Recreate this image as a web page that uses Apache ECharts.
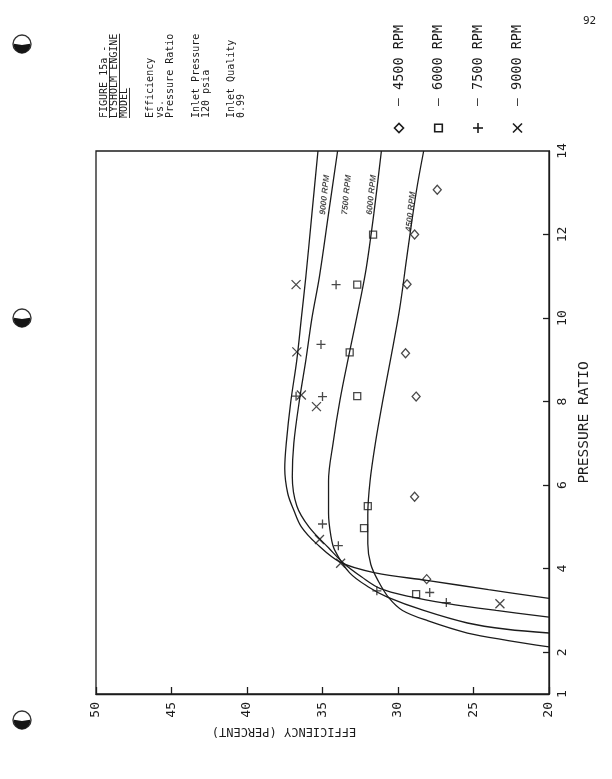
<!DOCTYPE html>
<html>
<head>
<meta charset="utf-8">
<script src="https://cdn.jsdelivr.net/npm/echarts@6/dist/echarts.min.js"></script>
<style>html,body{margin:0;padding:0;background:#fff}#c{width:612px;height:779px}</style>
</head>
<body>
<div id="c"></div>
<script>
// ---- axis ticks ----
const effTicks = [20, 25, 30, 35, 40, 45, 50];
const prLabels = [1, 2, 4, 6, 8, 10, 12, 14];
const prTickMarks = [2, 4, 6, 8, 10, 12];

// ---- measured points [efficiency %, pressure ratio] ----
const pts4500 = [[27.4,13.07],[28.9,12.0],[29.4,10.81],[29.5,9.16],[28.8,8.12],[28.9,5.72],[28.1,3.75]];
const pts6000 = [[31.65,12.0],[32.7,10.8],[33.2,9.18],[32.7,8.13],[32.0,5.5],[32.25,4.97],[28.8,3.39]];
const pts7500 = [[34.1,10.8],[35.1,9.37],[36.75,8.13],[35.0,8.12],[35.0,5.07],[33.95,4.55],[31.4,3.47],[27.9,3.43],[26.8,3.19]];
const pts9000 = [[36.75,10.8],[36.7,9.19],[36.4,8.16],[35.4,7.88],[35.2,4.70],[33.8,4.13],[23.25,3.16]];

// ---- model curves [efficiency %, pressure ratio] ----
const curve9000 = [[35.3,14],[35.7,12.5],[36.1,11],[36.4,10],[36.7,9],[37.1,8],[37.4,7],[37.5,6.4],[37.3,5.8],[36.9,5.4],[36.4,5.0],[35.4,4.6],[33.8,4.15],[31.5,3.9],[28.1,3.72],[24,3.5],[20,3.29]];
const curve7500 = [[34.0,14],[34.6,12.5],[35.2,11],[35.7,10],[36.1,9],[36.5,8.1],[36.9,7],[37.0,6.2],[36.7,5.5],[35.9,5.0],[34.6,4.5],[33.6,4.13],[32.4,3.8],[31.2,3.53],[29.2,3.33],[26.8,3.17],[23.5,3.0],[20,2.84]];
const curve6000 = [[31.1,14],[31.6,12.5],[32.1,11.2],[32.5,10.43],[33.2,9.2],[33.84,8.04],[34.3,7],[34.6,6.1],[34.6,5.33],[34.45,4.8],[34.2,4.45],[33.2,3.9],[31.9,3.55],[30.7,3.32],[28.3,3.0],[25.4,2.7],[22.8,2.55],[20,2.46]];
const curve4500 = [[28.3,14],[28.8,13],[29.4,11.5],[29.9,10.2],[30.5,9],[31.0,8.04],[31.5,7],[31.85,6.1],[32.0,5.3],[32.0,4.6],[31.8,4.1],[31.3,3.7],[30.6,3.3],[29.7,3.0],[28,2.75],[25.4,2.46],[22.7,2.28],[20,2.13]];

// ---- curve labels ----
const curveLabelText = ['9000 RPM', '7500 RPM', '6000 RPM', '4500 RPM'];
const curveLabelEff = [34.85, 33.4, 31.75, 29.15];
const curveLabelPR = [12.95, 12.95, 12.95, 12.55];

// ---- text blocks ----
const titleLines = ['FIGURE 15a -', 'LYSHOLM ENGINE', 'MODEL', 'Efficiency', 'vs.', 'Pressure Ratio', 'Inlet Pressure', '120 psia', 'Inlet Quality', '0.99'];
const underlinedText = ['FIGURE 15a', 'LYSHOLM ENGINE', 'MODEL'];
const legendNames = ['4500 RPM', '6000 RPM', '7500 RPM', '9000 RPM'];
const legendSymbols = ['diamond', 'square', 'plus', 'cross'];

// layout (screen columns for the rotated text block, punch holes)
const titleColX = [104, 114, 124, 150, 160, 170, 196, 206, 231, 241];
const TITLE_BASE_Y = 118;
const holeY = [44, 318, 720];

const INK = '#1c1c1c';
const MONO = 'DejaVu Sans Mono';
const plusPath = 'path://M5,0L5,10M0,5L10,5';
const crossPath = 'path://M0,0L10,10M10,0L0,10';

const chart = echarts.init(document.getElementById('c'), null, {renderer: 'canvas'});

function curveSeries(data) {
  return {type: 'line', data: data, smooth: 0.35, showSymbol: false, symbol: 'none',
    lineStyle: {color: INK, width: 1.3}, silent: true, z: 2};
}
function ptSeries(data, symbol, size) {
  return {type: 'scatter', data: data, symbol: symbol, symbolSize: size,
    itemStyle: {color: 'rgba(0,0,0,0)', borderColor: INK, borderWidth: 1.3}, z: 3};
}

// title graphic (group rotated 90deg: local x -> up, local y -> right)
const x0 = titleColX[0];
const titleChildren = [];
titleLines.forEach((t, i) => {
  titleChildren.push({type: 'text', x: 0, y: titleColX[i] - x0,
    style: {text: t, fontFamily: MONO, fontSize: 10, fill: INK, verticalAlign: 'middle', textAlign: 'left'}});
});
underlinedText.forEach((t, i) => {
  const yy = titleColX[i] - x0 + 5.5;
  titleChildren.push({type: 'line', shape: {x1: 0, y1: yy, x2: t.length * 6.02, y2: yy},
    style: {stroke: INK, lineWidth: 0.9}});
});

// legend graphic
const legendChildren = [];
legendNames.forEach((name, i) => {
  const y = i * 39.5;
  const s = legendSymbols[i];
  let shape;
  if (s === 'diamond') shape = {type: 'polygon', shape: {points: [[0, y - 4.5], [4.5, y], [0, y + 4.5], [-4.5, y]]}};
  else if (s === 'square') shape = {type: 'rect', shape: {x: -3.8, y: y - 3.8, width: 7.6, height: 7.6}};
  else if (s === 'plus') shape = {type: 'polyline', shape: {points: [[-5, y], [5, y]]}};
  else shape = {type: 'polyline', shape: {points: [[-4.5, y - 4.5], [4.5, y + 4.5]]}};
  shape.style = {stroke: INK, fill: null, lineWidth: 1.6};
  legendChildren.push(shape);
  if (s === 'plus') legendChildren.push({type: 'polyline', shape: {points: [[0, y - 5], [0, y + 5]]}, style: {stroke: INK, lineWidth: 1.6}});
  if (s === 'cross') legendChildren.push({type: 'polyline', shape: {points: [[-4.5, y + 4.5], [4.5, y - 4.5]]}, style: {stroke: INK, lineWidth: 1.6}});
  legendChildren.push({type: 'text', x: 22, y: y,
    style: {text: '–', fontFamily: MONO, fontSize: 13, fill: INK, verticalAlign: 'middle', textAlign: 'left'}});
  legendChildren.push({type: 'text', x: 38, y: y,
    style: {text: name, fontFamily: MONO, fontSize: 13.5, fill: INK, verticalAlign: 'middle', textAlign: 'left'}});
});

// punch holes of the scanned page
const holeGraphics = [];
holeY.forEach(y => {
  holeGraphics.push({type: 'circle', shape: {cx: 22, cy: y, r: 9}, style: {fill: '#fff', stroke: '#333', lineWidth: 1.4}});
  holeGraphics.push({type: 'sector', shape: {cx: 22, cy: y + 1, r: 8.2, startAngle: -0.15, endAngle: Math.PI + 0.15}, style: {fill: '#151515'}});
});

const option = {
  backgroundColor: '#ffffff',
  animation: false,
  grid: {left: 96, right: 63, top: 151, bottom: 85, show: true, borderColor: INK, borderWidth: 1.3, containLabel: false},
  xAxis: {
    type: 'value', min: 20, max: 50, interval: 5, inverse: true, position: 'bottom',
    axisLine: {show: true, lineStyle: {color: INK, width: 1.3}},
    axisTick: {show: true, inside: true, length: 7, lineStyle: {color: INK, width: 1.3}},
    axisLabel: {show: true, rotate: 90, margin: 8, fontFamily: MONO, fontSize: 13, color: INK,
      formatter: v => effTicks.indexOf(v) >= 0 ? String(v) : ''},
    splitLine: {show: false}
  },
  yAxis: {
    type: 'value', min: 1, max: 14, position: 'right',
    axisLine: {show: true, lineStyle: {color: INK, width: 1.3}},
    axisTick: {show: true, inside: true, length: 6, customValues: prTickMarks, lineStyle: {color: INK, width: 1.3}},
    axisLabel: {show: true, rotate: 90, margin: 7, fontFamily: MONO, fontSize: 13, color: INK, customValues: prLabels},
    splitLine: {show: false},
    name: 'PRESSURE RATIO', nameLocation: 'middle', nameRotate: 90, nameGap: 22,
    nameTextStyle: {fontFamily: MONO, fontSize: 14.5, color: INK}
  },
  series: [
    curveSeries(curve9000), curveSeries(curve7500), curveSeries(curve6000), curveSeries(curve4500),
    ptSeries(pts4500, 'diamond', [8, 9]),
    ptSeries(pts6000, 'rect', 7),
    ptSeries(pts7500, plusPath, 9),
    ptSeries(pts9000, crossPath, 9),
    {type: 'scatter', symbolSize: 0, silent: true, z: 4,
      data: curveLabelText.map((t, i) => ({value: [curveLabelEff[i], curveLabelPR[i]], name: t})),
      label: {show: true, position: 'inside', rotate: 84, formatter: p => p.name,
        fontFamily: 'Liberation Sans', fontStyle: 'italic', fontWeight: 'bold', fontSize: 8.5, color: INK}}
  ],
  graphic: [
    {type: 'group', x: x0, y: TITLE_BASE_Y, rotation: Math.PI / 2, children: titleChildren},
    {type: 'group', x: 399, y: 128, rotation: Math.PI / 2, children: legendChildren},
    {type: 'group', children: holeGraphics},
    {type: 'text', x: 583, y: 16, style: {text: '92', fontFamily: MONO, fontSize: 11, fill: INK}},
    {type: 'text', x: 284, y: 731, rotation: Math.PI,
      style: {text: 'EFFICIENCY (PERCENT)', fontFamily: MONO, fontSize: 12, fill: INK, textAlign: 'center', verticalAlign: 'middle'}}
  ]
};
chart.setOption(option);
</script>
</body>
</html>
